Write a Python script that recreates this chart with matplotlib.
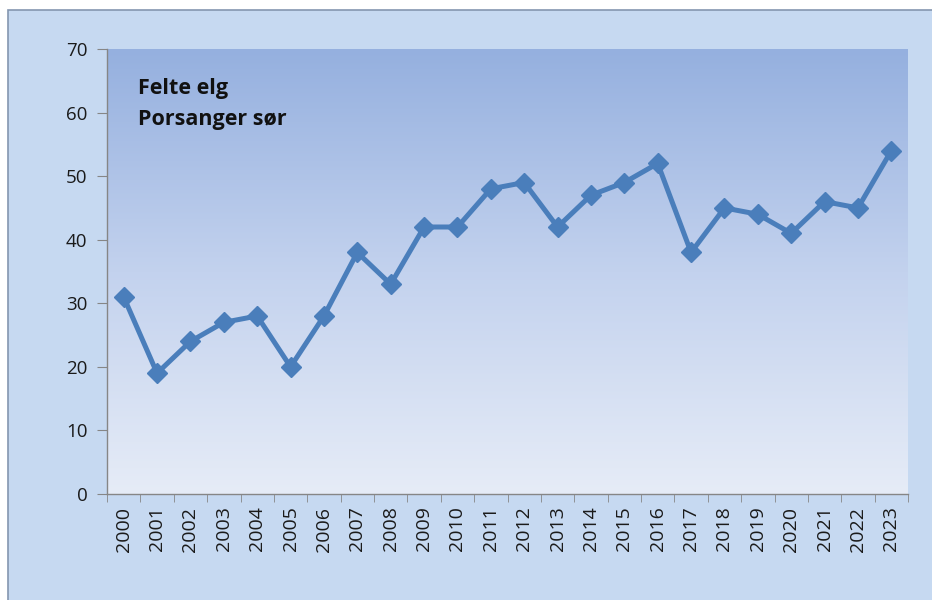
import matplotlib
matplotlib.use("Agg")
import matplotlib.pyplot as plt
import numpy as np
from matplotlib.patches import Rectangle
from matplotlib.colors import LinearSegmentedColormap

years = [str(y) for y in range(2000, 2024)]
values = [31, 19, 24, 27, 28, 20, 28, 38, 33, 42, 42, 48, 49, 42, 47, 49, 52, 38, 45, 44, 41, 46, 45, 54]
yticks = [0, 10, 20, 30, 40, 50, 60, 70]
title_lines = ['Felte elg', 'Porsanger sør']

plt.rcParams['font.family'] = ['Open Sans', 'DejaVu Sans']

W, H = 932, 600
fig = plt.figure(figsize=(9.32, 6.0), dpi=100)
fig.patch.set_facecolor('white')

bg = fig.add_axes([0, 0, 1, 1], zorder=-5)
bg.set_axis_off()
bg.set_xlim(0, W)
bg.set_ylim(H, 0)
bg.add_patch(Rectangle((8, 10), 940, 600, facecolor='#c6d9f1', edgecolor='#8496b0', linewidth=1.2))

ax = fig.add_axes([107/W, 1 - 494/H, (908 - 107)/W, (494 - 49)/H], zorder=1)
ax.set_facecolor('none')

# gradient background
grad = np.linspace(0, 1, 256).reshape(-1, 1)
cmap = LinearSegmentedColormap.from_list('g', ['#e6ecf7', '#c3d2ee', '#95b0df'])
ax.imshow(grad, aspect='auto', cmap=cmap, extent=[-0.5, len(years) - 0.5, 0, 70],
          origin='lower', zorder=0, interpolation='bicubic')

x = np.arange(len(years))
ax.plot(x, values, color='#4a7ebb', linewidth=3.6, marker='D', markersize=10,
        markerfacecolor='#4a7ebb', markeredgecolor='#4a7ebb', zorder=3)

ax.set_xlim(-0.5, len(years) - 0.5)
ax.set_ylim(0, 70)
ax.set_yticks(yticks)
ax.set_yticklabels([str(v) for v in yticks], fontsize=13.5, color='#1a1a1a')
ax.set_xticks(x)
ax.set_xticklabels(years, rotation=90, fontsize=14, color='#1a1a1a')
ax.tick_params(axis='x', length=0, pad=9)
ax.set_xticks(np.arange(-0.5, len(years)), minor=True)
ax.tick_params(axis='x', which='minor', length=6, color='#868686', direction='out')
ax.tick_params(axis='y', length=7, color='#868686', direction='out', pad=7)

for s in ['top', 'right']:
    ax.spines[s].set_visible(False)
for s in ['left', 'bottom']:
    ax.spines[s].set_color('#868686')
    ax.spines[s].set_linewidth(1.0)

fig.text(138/W, 1 - 94/H, title_lines[0], fontsize=15.5, fontweight='bold', va='baseline',
         ha='left', color='#111111', zorder=10)
fig.text(138/W, 1 - 125/H, title_lines[1], fontsize=15.5, fontweight='bold', va='baseline',
         ha='left', color='#111111', zorder=10)

fig.savefig('out.png', dpi=100, facecolor=fig.get_facecolor())
